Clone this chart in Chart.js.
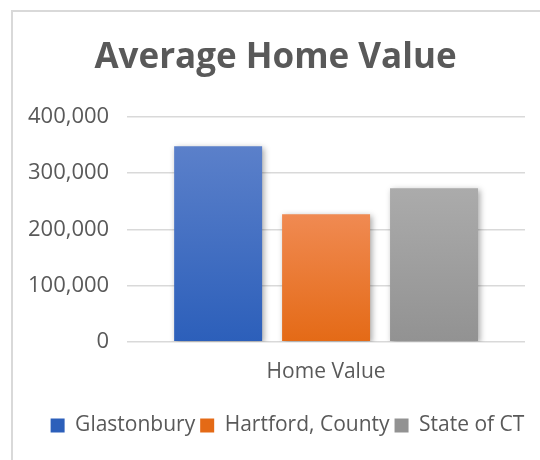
<!DOCTYPE html>
<html>
<head>
<meta charset="utf-8">
<script src="https://cdn.jsdelivr.net/npm/chart.js@4.4.0/dist/chart.umd.min.js"></script>
<style>
  html, body { margin: 0; padding: 0; background: #ffffff; overflow: hidden; }
  #wrap { position: relative; width: 540px; height: 460px; }
  #frame { position: absolute; left: 11px; top: 10px; width: 600px; height: 600px;
           border-left: 2px solid #d9d9d9; border-top: 2px solid #d9d9d9; box-sizing: border-box; }
  canvas { position: absolute; left: 0; top: 0; }
</style>
</head>
<body>
<div id="wrap">
  <div id="frame"></div>
  <canvas id="c" width="540" height="460"></canvas>
</div>
<script>
const chartTitle = "Average Home Value";
const categories = ["Home Value"];
const seriesNames = ["Glastonbury", "Hartford, County", "State of CT"];
const glastonbury = [348000];
const hartfordCounty = [227000];
const stateOfCT = [273000];
const yTicks = [0, 100000, 200000, 300000, 400000];

const gradStops = [
  ["#5b80ca", "#2c5fba"],
  ["#f08a52", "#e46a16"],
  ["#ababab", "#929292"]
];
const solid = ["#4472c4", "#ed7d31", "#a5a5a5"];

function barGradient(idx) {
  return function(context) {
    const chart = context.chart;
    const ys = chart.scales && chart.scales.y;
    if (!chart.chartArea || !ys || context.raw === undefined) return solid[idx];
    const top = ys.getPixelForValue(context.raw);
    const bottom = ys.getPixelForValue(0);
    if (!isFinite(top) || !isFinite(bottom) || top === bottom) return solid[idx];
    const g = chart.ctx.createLinearGradient(0, top, 0, bottom);
    g.addColorStop(0, gradStops[idx][0]);
    g.addColorStop(1, gradStops[idx][1]);
    return g;
  };
}

const shadowPlugin = {
  id: 'barShadow',
  beforeDatasetsDraw(chart) {
    const ctx = chart.ctx;
    ctx.save();
    ctx.shadowColor = 'rgba(0,0,0,0.35)';
    ctx.shadowBlur = 6;
    ctx.shadowOffsetX = 2;
    ctx.shadowOffsetY = 2;
  },
  afterDatasetsDraw(chart) {
    chart.ctx.restore();
  }
};

const boxShift = {
  id: 'boxShift',
  afterLayout(chart) {
    if (chart.legend) {
      chart.legend.left += 20;
      chart.legend.right += 20;
    }
    if (chart.titleBlock) {
      chart.titleBlock.left += 8;
      chart.titleBlock.right += 8;
    }
  }
};

const seriesData = [glastonbury, hartfordCounty, stateOfCT];

new Chart(document.getElementById('c'), {
  type: 'bar',
  data: {
    labels: categories,
    datasets: seriesNames.map((name, i) => ({
      label: name,
      data: seriesData[i],
      backgroundColor: barGradient(i),
      borderWidth: 0,
      categoryPercentage: 0.814,
      barPercentage: 0.815
    }))
  },
  plugins: [shadowPlugin, boxShift],
  options: {
    responsive: false,
    animation: false,
    devicePixelRatio: 1,
    layout: { padding: { left: 10, right: 15, top: 24, bottom: 14 } },
    plugins: {
      title: {
        display: true,
        text: chartTitle,
        color: '#595959',
        font: { family: 'Open Sans', size: 35, weight: 'bold' },
        padding: { top: 13, bottom: 38 }
      },
      legend: {
        display: true,
        position: 'bottom',
        labels: {
          color: '#595959',
          font: { family: 'Open Sans', size: 21 },
          boxWidth: 14,
          boxHeight: 14,
          padding: 5,
          generateLabels(chart) {
            return seriesNames.map((n, i) => ({
              text: n,
              fillStyle: gradStops[i][1],
              strokeStyle: gradStops[i][1],
              lineWidth: 0,
              datasetIndex: i,
              fontColor: '#595959'
            }));
          }
        }
      },
      tooltip: { enabled: false }
    },
    scales: {
      x: {
        grid: { display: false, drawTicks: false },
        border: { display: false },
        afterFit(axis) { axis.height += 7; },
        ticks: { color: '#595959', font: { family: 'Open Sans', size: 21 }, padding: 18 }
      },
      y: {
        min: 0,
        max: 400000,
        afterBuildTicks(axis) { axis.ticks = yTicks.map(v => ({ value: v })); },
        grid: { color: '#d9d9d9', lineWidth: 1.5, drawTicks: false },
        border: { display: false },
        ticks: {
          color: '#595959',
          font: { family: 'Open Sans', size: 22 },
          padding: 18,
          callback: v => Number(v).toLocaleString('en-US')
        }
      }
    }
  }
});
</script>
</body>
</html>
